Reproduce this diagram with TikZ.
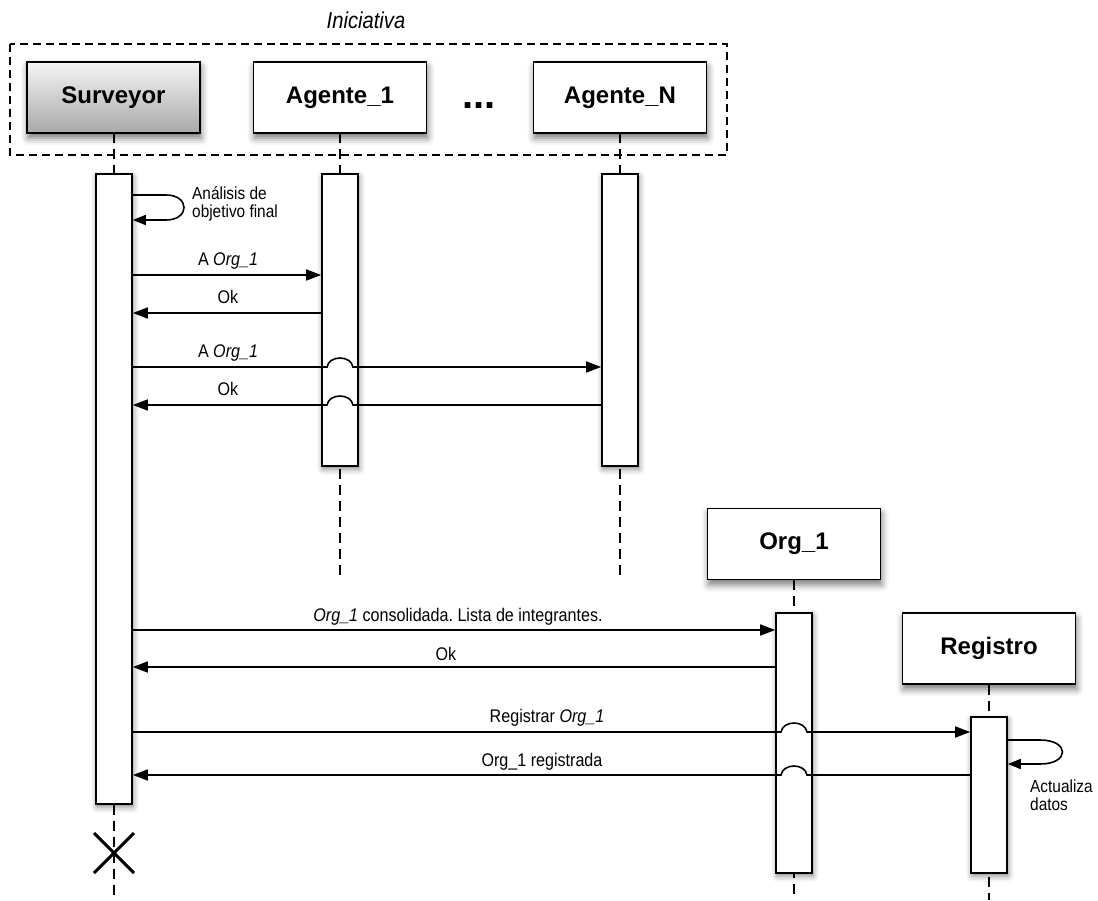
\documentclass[tikz,border=0pt]{standalone}
\usepackage{fontspec}
\setmainfont{Liberation Sans}
\newfontfamily\lblfont[FakeStretch=0.88]{Liberation Sans}
\usetikzlibrary{arrows.meta,shadows.blur}
\frenchspacing

\begin{document}
\begin{tikzpicture}[x=1pt,y=-1pt,
  softshadow/.style={blur shadow={shadow xshift=1pt, shadow yshift=-5pt,
      shadow blur radius=7pt, shadow opacity=55}},
  head/.style={draw, line width=1.6pt, fill=white, minimum width=173pt,
      minimum height=71pt, inner sep=0pt,
      font=\fontsize{24}{28}\selectfont\bfseries, softshadow},
  bar/.style={draw, line width=1.6pt, fill=white, minimum width=36pt,
      inner sep=0pt, anchor=north,
      blur shadow={shadow xshift=1pt, shadow yshift=-3pt,
        shadow blur radius=6pt, shadow opacity=50}},
  life/.style={line width=1.5pt, dash pattern=on 10pt off 6pt},
  group/.style={line width=1.5pt, dash pattern=on 8pt off 5pt},
  msg/.style={line width=1.6pt,
      -{Triangle[length=15pt,width=11pt]}},
  selfmsg/.style={line width=1.6pt,
      -{Triangle[length=13pt,width=10pt]}},
  lbl/.style={font=\lblfont\fontsize{18.3}{21}\selectfont, anchor=base, inner sep=0pt},
  note/.style={font=\lblfont\fontsize{17.5}{18}\selectfont, align=left,
      anchor=north west, inner sep=0pt},
]
\useasboundingbox (0,0) rectangle (1098,900);

% lifelines, drawn first so that boxes and bars sit on top
\coordinate (svEnd) at (114,900);
\coordinate (a1End) at (340,575);
\coordinate (anEnd) at (620,575);
\coordinate (orEnd) at (794,900);
\coordinate (rgEnd) at (989,900);
\draw[life] (114,133) -- (svEnd);
\draw[life] (340,133) -- (a1End);
\draw[life] (620,133) -- (anEnd);
\draw[life] (794,580) -- (orEnd);
\draw[life] (989,685) -- (rgEnd);

% participants
\node[head, shading=axis, top color=black!4, bottom color=black!34]
  (sv) at (113.5,97.5) {Surveyor};
\node[head] (a1) at (340,97.5) {Agente\_1};
\node[head] (an) at (620,97.5) {Agente\_N};
\node[font=\fontsize{40}{40}\selectfont\bfseries, anchor=base, inner sep=0pt]
  (dots) at (479,108) {...};
\node[head] (org) at (794,544) {Org\_1};
\node[head] (reg) at (989,648.5) {Registro};

% group frame around the initial participants
\draw[group] (10,44) rectangle (727,155);
\node[font=\lblfont\fontsize{23}{26}\selectfont\itshape, anchor=base, inner sep=0pt]
  (grp) at (366,28) {Iniciativa};

% activation bars
\node[bar, minimum height=630pt] (svb) at (114,173) {};
\node[bar, minimum height=292pt] (a1b) at (340,173) {};
\node[bar, minimum height=292pt] (anb) at (620,173) {};
\node[bar, minimum height=260pt] (orb) at (794,612) {};
\node[bar, minimum height=156pt] (rgb) at (989,716) {};

% self call on Surveyor
\draw[selfmsg] (svb.east |- 0,195) -- (166,195)
  .. controls (190,195) and (190,220) .. (166,220) -- (svb.east |- 0,220);
\node[note] (n1) at (192,186) {Análisis de\\objetivo final};

% Surveyor <-> Agente_1
\draw[msg] (svb.east |- 0,275) -- (a1b.west |- 0,275);
\node[lbl] (l1) at (228,265) {A \textit{Org\_1}};
\draw[msg] (a1b.west |- 0,313) -- (svb.east |- 0,313);
\node[lbl] (l2) at (228,303) {Ok};

% Surveyor <-> Agente_N, hopping over Agente_1
\draw[msg] (svb.east |- 0,367) -- (327,367)
  .. controls (329,355) and (351,355) .. (353,367) -- (anb.west |- 0,367);
\node[lbl] (l3) at (228,357) {A \textit{Org\_1}};
\draw[msg] (anb.west |- 0,405) -- (353,405)
  .. controls (351,393) and (329,393) .. (327,405) -- (svb.east |- 0,405);
\node[lbl] (l4) at (228,395) {Ok};

% Surveyor <-> Org_1
\draw[msg] (svb.east |- 0,630) -- (orb.west |- 0,630);
\node[lbl] (l5) at (458,621) {\textit{Org\_1} consolidada. Lista de integrantes.};
\draw[msg] (orb.west |- 0,667) -- (svb.east |- 0,667);
\node[lbl] (l6) at (446,660) {Ok};

% Surveyor <-> Registro, hopping over Org_1
\draw[msg] (svb.east |- 0,732) -- (781,732)
  .. controls (783,720) and (805,720) .. (807,732) -- (rgb.west |- 0,732);
\node[lbl] (l7) at (547,722) {Registrar \textit{Org\_1}};
\draw[msg] (rgb.west |- 0,775) -- (807,775)
  .. controls (805,763) and (783,763) .. (781,775) -- (svb.east |- 0,775);
\node[lbl] (l8) at (542,766) {Org\_1 registrada};

% self call on Registro
\draw[selfmsg] (rgb.east |- 0,740) -- (1040,740)
  .. controls (1070,740) and (1070,764) .. (1040,764) -- (rgb.east |- 0,764);
\node[note] (n2) at (1030,780) {Actualiza\\datos};

% end of the Surveyor lifeline
\coordinate (xc) at (114,853);
\draw[line width=3pt] (94,833) -- (134,873) (94,873) -- (134,833);
\end{tikzpicture}
\end{document}
